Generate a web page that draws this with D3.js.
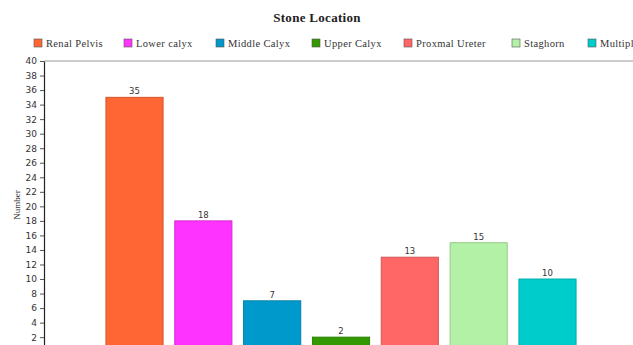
<!DOCTYPE html>
<html>
<head>
<meta charset="utf-8">
<script src="https://cdn.jsdelivr.net/npm/d3@7"></script>
<style>
  html, body { margin: 0; padding: 0; background: #fff; overflow: hidden; }
  svg { display: block; }
</style>
</head>
<body>
<svg></svg>
<script>
// Data
const locations = ['Renal Pelvis', 'Lower calyx', 'Middle Calyx', 'Upper Calyx', 'Proxmal Ureter', 'Staghorn', 'Multiple'];
const counts = [35, 18, 7, 2, 13, 15, 10];
const colors = ['#ff6633', '#ff33ff', '#0099cc', '#339900', '#ff6666', '#b3f2a6', '#00cccc'];
const yTicks = d3.range(2, 41, 2);

// Constants
const width = 660;
const height = 360;
const plotLeft = 44;
const plotRight = 638;
const plotTop = 61;
const plotBottom = 351.7;

const svg = d3.select('svg')
    .attr('width', width)
    .attr('height', height);

// title
svg.append('text')
    .attr('x', 317)
    .attr('y', 22)
    .attr('text-anchor', 'middle')
    .attr('font-family', 'Liberation Serif, serif')
    .attr('font-weight', 'bold')
    .attr('font-size', 13)
    .attr('letter-spacing', 0.3)
    .attr('fill', '#222')
    .text('Stone Location');

// legend
const legendX = [34, 124, 216, 312, 404, 512, 588];
const legend = svg.append('g').attr('id', 'legend');
const items = legend.selectAll('g')
    .data(locations).enter().append('g')
    .attr('transform', (d, i) => `translate(${legendX[i]}, 39)`);

items.append('rect')
    .attr('width', 8)
    .attr('height', 8)
    .attr('fill', (d, i) => colors[i])
    .attr('stroke', '#555')
    .attr('stroke-width', 0.6);

items.append('text')
    .attr('x', 12)
    .attr('y', 7.5)
    .attr('font-family', 'Liberation Serif, serif')
    .attr('font-size', 10.5)
    .attr('letter-spacing', 0.35)
    .attr('fill', '#333')
    .text(d => d);

// scales
const x = d3.scaleBand()
    .domain(locations)
    .range([plotLeft, plotRight])
    .paddingInner(0.17)
    .paddingOuter(0.9);

const y = d3.scaleLinear()
    .domain([0, 40])
    .range([plotBottom, plotTop]);

// top frame line
svg.append('line')
    .attr('x1', plotLeft)
    .attr('x2', width)
    .attr('y1', plotTop)
    .attr('y2', plotTop)
    .attr('stroke', '#999')
    .attr('stroke-width', 1);

// yAxis
const yAxis = d3.axisLeft(y)
    .tickValues(yTicks)
    .tickSize(4)
    .tickSizeOuter(0);

const yG = svg.append('g')
    .attr('id', 'y-axis')
    .attr('transform', `translate(${plotLeft}, 0)`)
    .call(yAxis);

yG.select('.domain').attr('stroke', '#222').attr('stroke-width', 1.2);
yG.selectAll('.tick line').attr('stroke', '#555');
yG.selectAll('.tick text')
    .attr('font-family', 'DejaVu Sans, sans-serif')
    .attr('font-size', 9)
    .attr('fill', '#333');

svg.append('text')
    .attr('transform', 'translate(20, 205) rotate(-90)')
    .attr('text-anchor', 'middle')
    .attr('font-family', 'Liberation Serif, serif')
    .attr('font-size', 9)
    .attr('fill', '#333')
    .text('Number');

// bars
svg.selectAll('.bar')
    .data(counts).enter()
    .append('rect')
    .attr('class', 'bar')
    .attr('x', (d, i) => x(locations[i]))
    .attr('y', d => y(d))
    .attr('width', x.bandwidth())
    .attr('height', d => y(0) - y(d))
    .attr('fill', (d, i) => colors[i])
    .attr('stroke', (d, i) => d3.color(colors[i]).darker(0.5))
    .attr('stroke-width', 1);

// value labels
svg.selectAll('.label')
    .data(counts).enter()
    .append('text')
    .attr('class', 'label')
    .attr('x', (d, i) => x(locations[i]) + x.bandwidth() / 2)
    .attr('y', d => y(d) - 3)
    .attr('text-anchor', 'middle')
    .attr('font-family', 'DejaVu Sans, sans-serif')
    .attr('font-size', 8.5)
    .attr('fill', '#333')
    .text(d => d);
</script>
</body>
</html>
